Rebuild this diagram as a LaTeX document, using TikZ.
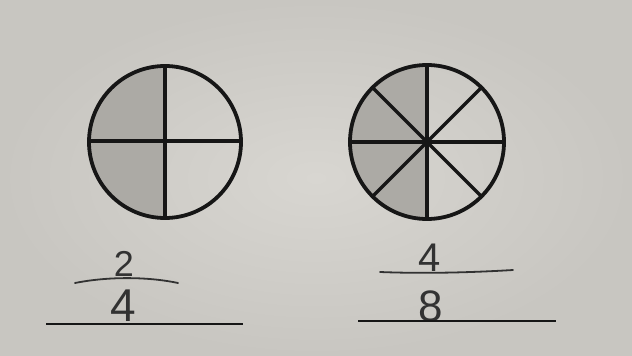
\documentclass[tikz,border=0pt]{standalone}
\usepackage{fontspec}
\setmainfont{Liberation Sans}
\usetikzlibrary{calc}
\definecolor{paper}{RGB}{200,198,193}
\definecolor{paperlight}{RGB}{216,214,209}
\definecolor{pencil}{RGB}{172,170,165}
\definecolor{ink}{RGB}{22,22,22}
\definecolor{graphite}{RGB}{50,50,50}
\tikzset{
  rim/.style={draw=ink, line width=3.8pt},
  spoke/.style={draw=ink, line width=3.4pt},
  fracbar/.style={draw=graphite, line width=1.8pt, line cap=round},
  baseline/.style={draw=ink, line width=1.6pt},
  numeral/.style={text=graphite, inner sep=0pt},
}
\begin{document}
\begin{tikzpicture}[x=1pt,y=-1pt]
\useasboundingbox (0,0) rectangle (632,356);
\shade[inner color=paperlight, outer color=paper] (0,0) rectangle (632,356);
% left circle
\coordinate (lc) at (165,142);
\fill[pencil] (lc) -- +(0,-75) arc[start angle=-90, end angle=-270, radius=75] -- cycle;
\draw[rim] (lc) circle[radius=76];
\draw[spoke] (165,66) -- (165,218);
\draw[spoke] (89,141) -- (241,141);
% right circle
\coordinate (rc) at (427,142);
\fill[pencil] (rc) -- +(0,-76) arc[start angle=-90, end angle=-270, radius=76] -- cycle;
\draw[rim] (rc) circle[radius=77];
\foreach \a in {0,45,90,135} {
  \draw[spoke] ($(rc)+(\a:77)$) -- ($(rc)+(\a+180:77)$);
}
% fractions left
\node[numeral, font=\fontsize{36}{36}\selectfont] (n1) at (124,264) {2};
\draw[fracbar] (75,283) .. controls (110,276) and (150,277) .. (178,283);
\node[numeral, font=\fontsize{46}{46}\selectfont] (d1) at (123,306) {4};
\draw[baseline] (46,324) -- (243,324);
% fractions right
\node[numeral, font=\fontsize{40}{40}\selectfont] (n2) at (430,258) {4};
\draw[fracbar] (380,272) .. controls (430,274) and (480,272) .. (513,270);
\node[numeral, font=\fontsize{44}{44}\selectfont] (d2) at (431,306) {8};
\draw[baseline] (358,321) -- (556,321);
\end{tikzpicture}
\end{document}
